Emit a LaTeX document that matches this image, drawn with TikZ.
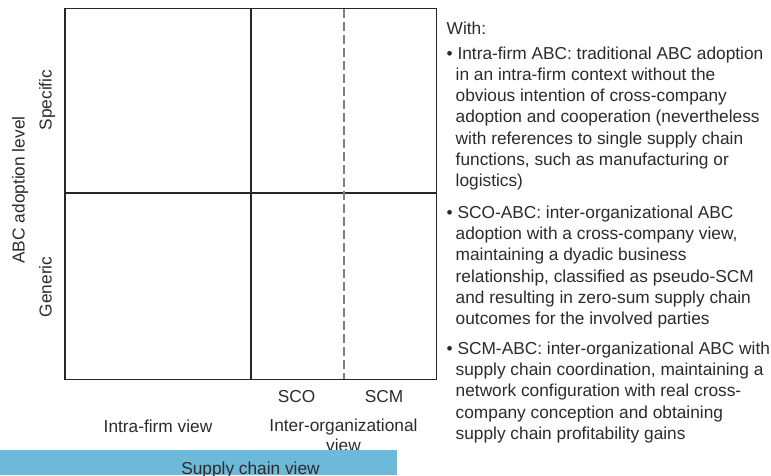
\documentclass[tikz,border=0pt]{standalone}
\usepackage{fontspec}
\setmainfont{Liberation Sans}
\definecolor{barblue}{HTML}{6DB9D9}
\definecolor{txtgray}{HTML}{2B2B2B}
\tikzset{
  gridline/.style={draw=black!85, line width=1.4pt},
  lbl/.style={text=txtgray, font=\fontsize{17.3}{21.2}\selectfont, inner sep=0pt},
  para/.style={lbl, anchor=north west, align=left}
}
\begin{document}
\begin{tikzpicture}[x=1pt,y=-1pt]
\useasboundingbox (0,0) rectangle (771,475);
% grid
\draw[gridline] (65,8.3) rectangle (436.7,379.3);
\draw[gridline] (251,8.3) -- (251,379.3);
\draw[gridline] (65,193) -- (436.7,193);
\draw[draw=black!50, line width=1.1pt, dash pattern=on 9pt off 4pt] (344,9) -- (344,378.6);
% axis labels
\node[lbl, rotate=90, anchor=base] (level) at (24.5,190) {ABC adoption level};
\node[lbl, rotate=90, anchor=base] (spec) at (51.5,100) {Specific};
\node[lbl, rotate=90, anchor=base] (gen) at (51.5,287) {Generic};
\node[lbl, anchor=base] (sco) at (296.5,402.7) {SCO};
\node[lbl, anchor=base] (scm) at (384,402.7) {SCM};
\node[lbl, anchor=base] (intra) at (158,432) {Intra-firm view};
\node[lbl, anchor=north, align=center, font=\fontsize{17.3}{20}\selectfont] (inter) at (343.5,419.2) {Inter-organizational\\view};
% bar
\fill[barblue] (0,450) rectangle (397,475);
\node[lbl, anchor=base] (scv) at (250.5,474) {Supply chain view};
% legend
\node[para] (with) at (446.5,21.6) {With:};
\node[para] (p1) at (446.5,46.6) {• Intra-firm ABC: traditional ABC adoption\\
\hspace*{9pt}in an intra-firm context without the\\
\hspace*{9pt}obvious intention of cross-company\\
\hspace*{9pt}adoption and cooperation (nevertheless\\
\hspace*{9pt}with references to single supply chain\\
\hspace*{9pt}functions, such as manufacturing or\\
\hspace*{9pt}logistics)};
\node[para] (p2) at (446.5,205.8) {• SCO-ABC: inter-organizational ABC\\
\hspace*{9pt}adoption with a cross-company view,\\
\hspace*{9pt}maintaining a dyadic business\\
\hspace*{9pt}relationship, classified as pseudo-SCM\\
\hspace*{9pt}and resulting in zero-sum supply chain\\
\hspace*{9pt}outcomes for the involved parties};
\node[para] (p3) at (446.5,341.8) {• SCM-ABC: inter-organizational ABC with\\
\hspace*{9pt}supply chain coordination, maintaining a\\
\hspace*{9pt}network configuration with real cross-\\
\hspace*{9pt}company conception and obtaining\\
\hspace*{9pt}supply chain profitability gains};
\end{tikzpicture}
\end{document}
